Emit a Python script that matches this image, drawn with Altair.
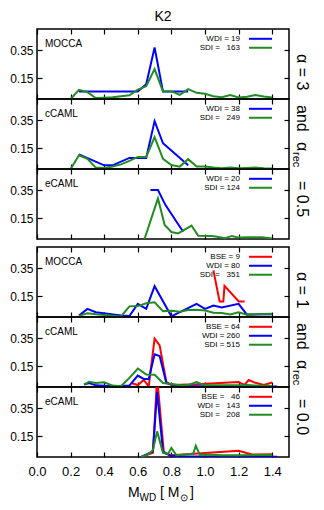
import altair as alt
import pandas as pd

FONT = "Liberation Sans"
RED, BLUE, GREEN = "#ff0000", "#0000ff", "#228b22"
W, H = 252, 70

title_text = "K2"
panel_names = ["MOCCA", "cCAML", "eCAML", "MOCCA", "cCAML", "eCAML"]
legend_labels = [
    ["WDI = 19", "SDI =   163"],
    ["WDI = 38", "SDI =   249"],
    ["WDI = 20", "SDI = 124"],
    ["BSE = 9", "WDI = 80", "SDI =   351"],
    ["BSE = 64", "WDI = 260", "SDI = 515"],
    ["BSE =   46", "WDI =   143", "SDI =   208"],
]
x_ticks = [0.0, 0.2, 0.4, 0.6, 0.8, 1.0, 1.2, 1.4]
y_ticks = [0.15, 0.35]

# ---- panel 1: MOCCA, alpha=3
p1_wdi_x = [0.25, 0.55, 0.6, 0.65, 0.7, 0.75, 0.9]
p1_wdi_y = [0.053, 0.053, 0.053, 0.105, 0.368, 0.053, 0.053]
p1_sdi_x = [0.2, 0.25, 0.3, 0.35, 0.4, 0.45, 0.5, 0.55, 0.6, 0.65, 0.7, 0.75, 0.8,
            0.85, 0.9, 0.95, 1.0, 1.05, 1.1, 1.15, 1.2, 1.25, 1.3, 1.35, 1.4]
p1_sdi_y = [0.0, 0.066, 0.049, 0.007, 0.009, 0.012, 0.02, 0.027, 0.067, 0.091, 0.214, 0.054, 0.054,
            0.03, 0.071, 0.044, 0.037, 0.02, 0.013, 0.028, 0.011, 0.016, 0.028, 0.018, 0.011]
# ---- panel 2: cCAML, alpha=3
p2_wdi_x = [0.25, 0.4, 0.45, 0.55, 0.65, 0.7, 0.75, 0.9]
p2_wdi_y = [0.105, 0.026, 0.026, 0.079, 0.079, 0.342, 0.184, 0.026]
p2_sdi_x = [0.2, 0.25, 0.3, 0.35, 0.4, 0.45, 0.5, 0.55, 0.6, 0.65, 0.7, 0.75, 0.8,
            0.85, 0.9, 0.95, 1.0, 1.05, 1.1, 1.15, 1.2, 1.25, 1.3, 1.35, 1.4]
p2_sdi_y = [0.0, 0.098, 0.072, 0.01, 0.007, 0.018, 0.033, 0.058, 0.086, 0.086, 0.228, 0.072, 0.029,
            0.017, 0.07, 0.017, 0.017, 0.01, 0.005, 0.01, 0.005, 0.008, 0.01, 0.005, 0.003]
# ---- panel 3: eCAML, alpha=3
p3_wdi_x = [0.675, 0.72, 0.765, 0.87]
p3_wdi_y = [0.35, 0.35, 0.242, 0.052]
p3_sdi_x = [0.64, 0.72, 0.76, 0.8, 0.84, 0.92, 0.96, 1.04, 1.08, 1.12, 1.16, 1.2, 1.26, 1.34, 1.4]
p3_sdi_y = [0.0, 0.29, 0.1, 0.05, 0.04, 0.095, 0.023, 0.022, 0.015, 0.006, 0.022, 0.01, 0.012, 0.012, 0.004]
# ---- panel 4: MOCCA, alpha=1
p4_bse_x = [1.05, 1.087, 1.109, 1.116, 1.201, 1.236]
p4_bse_y = [0.333, 0.111, 0.111, 0.222, 0.111, 0.111]
p4_wdi_x = [0.25, 0.3, 0.35, 0.5, 0.55, 0.6, 0.65, 0.7, 0.8, 0.95, 1.0, 1.05, 1.1, 1.2, 1.25, 1.4]
p4_wdi_y = [0.01, 0.058, 0.034, 0.01, 0.007, 0.094, 0.058, 0.22, 0.005, 0.094, 0.058, 0.082, 0.068, 0.094, 0.017, 0.02]
p4_sdi_x = [0.25, 0.3, 0.35, 0.5, 0.55, 0.6, 0.65, 0.7, 0.75, 0.8, 0.85, 0.9, 0.95, 1.0, 1.05, 1.1, 1.15, 1.2, 1.25, 1.4]
p4_sdi_y = [0.008, 0.027, 0.02, 0.004, 0.076, 0.078, 0.098, 0.105, 0.042, 0.045, 0.038, 0.05, 0.052, 0.046,
            0.03, 0.028, 0.018, 0.033, 0.017, 0.024]
# ---- panel 5: cCAML, alpha=1
p5_bse_x = [0.56, 0.6, 0.635, 0.665, 0.7, 0.73, 0.77, 0.8, 0.95, 1.2, 1.235, 1.26, 1.3, 1.35, 1.4]
p5_bse_y = [0.028, 0.014, 0.05, 0.005, 0.345, 0.297, 0.034, 0.015, 0.02, 0.036, 0.015, 0.05, 0.03, 0.015, 0.032]
p5_wdi_x = [0.28, 0.31, 0.35, 0.45, 0.55, 0.6, 0.635, 0.665, 0.7, 0.73, 0.77, 0.8, 0.9, 1.2, 1.25, 1.3, 1.43]
p5_wdi_y = [0.017, 0.029, 0.012, 0.005, 0.01, 0.082, 0.058, 0.058, 0.233, 0.221, 0.029, 0.017, 0.006, 0.008,
            0.012, 0.006, 0.003]
p5_sdi_x = [0.28, 0.31, 0.35, 0.4, 0.45, 0.5, 0.55, 0.6, 0.65, 0.7, 0.75, 0.8, 0.85, 0.9, 0.95, 1.0, 1.25, 1.4]
p5_sdi_y = [0.017, 0.038, 0.029, 0.034, 0.01, 0.005, 0.065, 0.132, 0.09, 0.088, 0.029, 0.022, 0.012, 0.015,
            0.036, 0.012, 0.012, 0.008]
# ---- panel 6: eCAML, alpha=1
p6_bse_x = [0.62, 0.69, 0.715, 0.755, 0.8, 1.0, 1.2, 1.28, 1.4]
p6_bse_y = [0.0, 0.03, 0.57, 0.03, 0.012, 0.028, 0.045, 0.018, 0.02]
p6_wdi_x = [0.62, 0.69, 0.715, 0.75, 0.79, 0.85, 1.0, 1.2, 1.43]
p6_wdi_y = [0.0, 0.04, 0.465, 0.04, 0.01, 0.006, 0.004, 0.005, 0.002]
p6_sdi_x = [0.62, 0.67, 0.69, 0.715, 0.75, 0.78, 0.8, 0.83, 0.9, 0.93, 0.945, 0.97, 1.0, 1.1, 1.2, 1.3, 1.4]
p6_sdi_y = [0.0, 0.025, 0.05, 0.183, 0.03, 0.022, 0.065, 0.012, 0.02, 0.025, 0.08, 0.015, 0.017, 0.012,
            0.012, 0.015, 0.015]

panel_series = [
    {"WDI": (p1_wdi_x, p1_wdi_y), "SDI": (p1_sdi_x, p1_sdi_y)},
    {"WDI": (p2_wdi_x, p2_wdi_y), "SDI": (p2_sdi_x, p2_sdi_y)},
    {"WDI": (p3_wdi_x, p3_wdi_y), "SDI": (p3_sdi_x, p3_sdi_y)},
    {"BSE": (p4_bse_x, p4_bse_y), "WDI": (p4_wdi_x, p4_wdi_y), "SDI": (p4_sdi_x, p4_sdi_y)},
    {"BSE": (p5_bse_x, p5_bse_y), "WDI": (p5_wdi_x, p5_wdi_y), "SDI": (p5_sdi_x, p5_sdi_y)},
    {"BSE": (p6_bse_x, p6_bse_y), "WDI": (p6_wdi_x, p6_wdi_y), "SDI": (p6_sdi_x, p6_sdi_y)},
]

SERIES = ["BSE", "WDI", "SDI"]
XS = alt.Scale(domain=[0, 1.5], nice=False, zero=False)
YS = alt.Scale(domain=[0, 0.5], nice=False, zero=False)
CS = alt.Scale(domain=SERIES, range=[RED, BLUE, GREEN])
DUMMY = pd.DataFrame({"a": [0]})

# legend layout (data units within each panel)
LEG_TEXT_X = 1.208
LEG_LINE_X1, LEG_LINE_X2 = 1.262, 1.399
LEG_ROW_Y = [0.43, 0.366, 0.302]


def tick_axis(orient, values):
    return alt.Axis(orient=orient, values=values, offset=-5, tickSize=5, tickWidth=1.2,
                    tickColor="black", labels=False, domain=False, grid=False, title=None)


label_axis_y = alt.Axis(orient="left", values=y_ticks, format=".2f", ticks=False, labelPadding=4,
                        domain=False, grid=False, title=None, labelFlush=False,
                        labelFontSize=12, labelFont=FONT, labelColor="black")
label_axis_x = alt.Axis(orient="bottom", values=x_ticks, format=".1f", ticks=False, labelPadding=8,
                        domain=False, grid=False, title=None, labelFlush=False, labelOverlap=False,
                        labelFontSize=13, labelFont=FONT, labelColor="black")


def text_layer(t, x, y, fs, angle=0, align="left", baseline="middle"):
    return alt.Chart(DUMMY).mark_text(angle=angle, align=align, baseline=baseline, fontSize=fs,
                                      font=FONT, color="black").encode(
        x=alt.value(x), y=alt.value(y), text=alt.value(t))


def make_panel(series, labels, name, bottom, extras):
    rows = []
    for s in SERIES:
        if s in series:
            xs, ys = series[s]
            rows += [{"s": s, "m": x, "f": y} for x, y in zip(xs, ys)]
    df = pd.DataFrame(rows)
    base = alt.Chart(df)
    ticks_a = base.mark_point(opacity=0).encode(
        x=alt.X("m:Q", scale=XS, axis=tick_axis("top", x_ticks)),
        y=alt.Y("f:Q", scale=YS, axis=tick_axis("left", y_ticks)))
    ticks_b = base.mark_point(opacity=0).encode(
        x=alt.X("m:Q", scale=XS, axis=(label_axis_x if bottom else None)),
        y=alt.Y("f:Q", scale=YS, axis=tick_axis("right", y_ticks)))
    lines = base.mark_line(strokeWidth=2, clip=True).encode(
        x=alt.X("m:Q", scale=XS, axis=tick_axis("bottom", x_ticks)),
        y=alt.Y("f:Q", scale=YS, axis=label_axis_y),
        color=alt.Color("s:N", scale=CS, legend=None))
    leg = pd.DataFrame({
        "t": [l.replace(" ", "\u00a0") for l in labels],
        "s": [l.split()[0] for l in labels],
        "ly": LEG_ROW_Y[:len(labels)],
        "tx": [LEG_TEXT_X] * len(labels),
        "x1": [LEG_LINE_X1] * len(labels),
        "x2": [LEG_LINE_X2] * len(labels),
    })
    leg_rule = alt.Chart(leg).mark_rule(strokeWidth=2).encode(
        x=alt.X("x1:Q", scale=XS, axis=None), x2="x2:Q",
        y=alt.Y("ly:Q", scale=YS, axis=None),
        color=alt.Color("s:N", scale=CS, legend=None))
    leg_text = alt.Chart(leg).mark_text(align="right", baseline="middle", fontSize=8, font=FONT,
                                        color="black").encode(
        x=alt.X("tx:Q", scale=XS, axis=None), y=alt.Y("ly:Q", scale=YS, axis=None), text="t:N")
    name_text = text_layer(name, 8, 14.5, 10)
    return alt.layer(ticks_a, ticks_b, lines, leg_rule, leg_text, name_text, *extras).resolve_axis(
        x="independent", y="independent").properties(width=W, height=H)


def group_label(a_val, rec_val):
    parts = [("α = " + a_val, 265, 25, 16), ("and", 265, 76, 16), ("α", 265, 113, 16),
             ("rec", 259, 123, 11), ("= " + rec_val, 265, 152, 16)]
    return [text_layer(t, x, y, fs, angle=90) for t, x, y, fs in parts]


xtitle_parts = [("M", 91, 109.5, 14), ("WD", 102.5, 113.5, 10), ("[ M", 123, 109.5, 14),
                ("⊙", 142.5, 113.5, 10), ("]", 153, 109.5, 14)]
xtitle = [text_layer(t, x, y, fs, baseline="alphabetic") for t, x, y, fs in xtitle_parts]
k2 = [text_layer(title_text, W / 2, -12.5, 14, align="center")]

extras = [k2 + group_label("3", "0.5"), [], [], group_label("1", "0.0"), [], xtitle]

panels = [make_panel(panel_series[i], legend_labels[i], panel_names[i], i == 5, extras[i])
          for i in range(6)]

spacer = alt.Chart(DUMMY).mark_text(text=" ").encode(x=alt.value(0), y=alt.value(0)).properties(
    width=W, height=8, view=alt.ViewBackground(stroke="transparent"))

chart = alt.vconcat(panels[0], panels[1], panels[2], spacer, panels[3], panels[4], panels[5],
                    spacing=0, bounds="flush").configure_view(
    stroke="black", strokeWidth=1.5).properties(
    padding={"left": 0, "top": 0, "right": 4, "bottom": 4})

chart.save("out.html", embed_options={"renderer": "svg", "actions": False})
